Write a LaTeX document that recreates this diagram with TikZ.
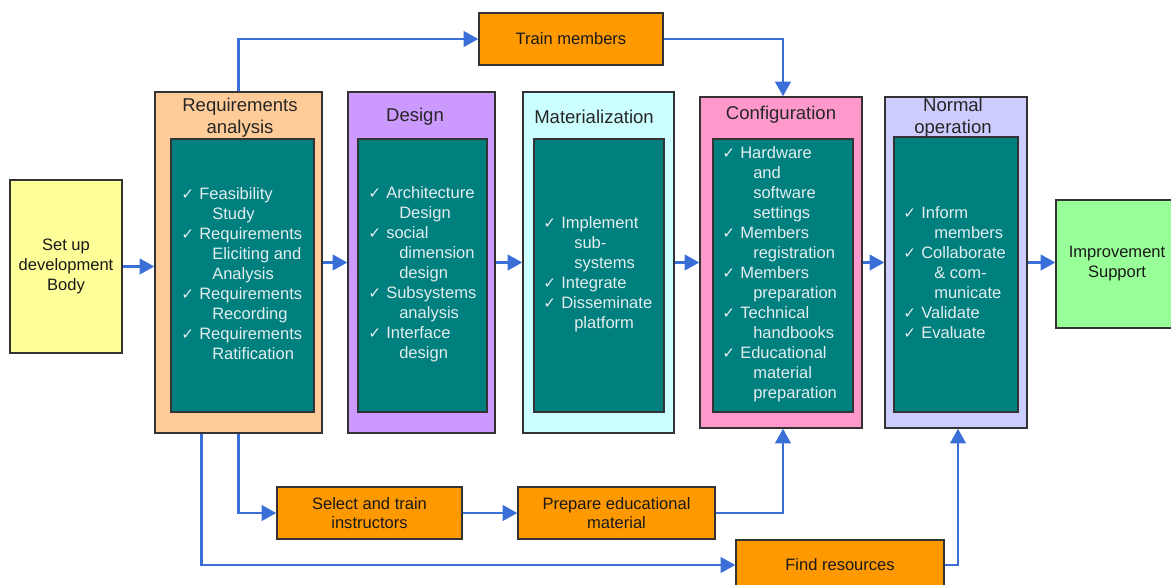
\documentclass[tikz,border=0pt]{standalone}
\usepackage{fontspec}
\setmainfont{Liberation Sans}
\newfontfamily\djv{DejaVu Sans}
\usetikzlibrary{fit,arrows.meta}
\definecolor{reqc}{HTML}{FFCC99}
\definecolor{desc}{HTML}{CC99FF}
\definecolor{matc}{HTML}{CCFFFF}
\definecolor{confc}{HTML}{FF99CC}
\definecolor{normc}{HTML}{CCCCFF}
\definecolor{setupc}{HTML}{FFFF99}
\definecolor{impc}{HTML}{99FF99}
\definecolor{orangec}{HTML}{FF9900}
\definecolor{tealc}{HTML}{007F7F}
\definecolor{arrc}{HTML}{3A6FD8}
\definecolor{lstc}{HTML}{E4EEEE}
\newcommand{\ckm}{\makebox[13.5pt][l]{\djv\fontsize{11.5}{12}\selectfont ✓}}
\newcommand{\cnt}{\hspace*{23.25pt}}
\tikzset{
 blk/.style={draw=black!80, line width=1pt, inner sep=0pt},
 innr/.style={blk, fill=tealc},
 ttl/.style={font=\fontsize{13.9}{16.5}\selectfont, text=black!85, align=center, inner sep=0pt},
 lst/.style={font=\fontsize{12.4}{15}\selectfont, text=lstc, align=left, inner sep=0pt, anchor=west},
 lbl/.style={font=\fontsize{12.4}{15}\selectfont, text=black!90, align=center, inner sep=0pt},
 tlbl/.style={lbl, font=\fontsize{12.4}{14.25}\selectfont},
 task/.style={blk, fill=orangec},
 arr/.style={draw=arrc, line width=2.2pt, -{Triangle[length=11pt,width=11.5pt]}},
}
\begin{document}
\begin{tikzpicture}[x=0.75pt,y=-0.75pt]
\clip (0,0) rectangle (1171,585);
\fill[white] (0,0) rectangle (1171,585);

% main column boxes
\node[blk, fill=setupc, fit={(10,180)(122,353)}] (setup) {};
\node[lbl] (setupt) at (setup.center) {Set up\\development\\Body};
\node[blk, fill=reqc, fit={(155,92)(322,433)}] (req) {};
\node[innr, fit={(171,139)(314,412)}] (reqi) {};
\node[blk, fill=desc, fit={(348,92)(495,433)}] (des) {};
\node[innr, fit={(358,139)(487,412)}] (desi) {};
\node[blk, fill=matc, fit={(523,92)(674,433)}] (mat) {};
\node[innr, fit={(534,139)(664,412)}] (mati) {};
\node[blk, fill=confc, fit={(700,97)(862,428)}] (conf) {};
\node[innr, fit={(713,139)(853,412)}] (confi) {};
\node[blk, fill=normc, fit={(885,97)(1027,428)}] (norm) {};
\node[innr, fit={(894,137)(1018,412)}] (normi) {};
\node[blk, fill=impc, fit={(1056,200)(1178,328)}] (imp) {};
\node[lbl] (impt) at (imp.center) {Improvement\\Support};

% titles
\node[ttl] (reqt) at (240,118) {Requirements\\analysis};
\node[ttl] (dest) at (415,117) {Design};
\node[ttl] (matt) at (594,117) {Materialization};
\node[ttl] (conft) at (781,115) {Configuration};
\node[ttl] (normt) at (953,118) {Normal\\operation};

% lists
\node[lst] (reql) at (181,274) {\ckm Feasibility\\\cnt Study\\\ckm Requirements\\\cnt Eliciting and\\\cnt Analysis\\\ckm Requirements\\\cnt Recording\\\ckm Requirements\\\cnt Ratification};
\node[lst] (desl) at (368,274) {\ckm Architecture\\\cnt Design\\\ckm social\\\cnt dimension\\\cnt design\\\ckm Subsystems\\\cnt analysis\\\ckm Interface\\\cnt design};
\node[lst] (matl) at (543,274) {\ckm Implement\\\cnt sub-\\\cnt systems\\\ckm Integrate\\\ckm Disseminate\\\cnt platform};
\node[lst] (confl) at (722,274) {\ckm Hardware\\\cnt and\\\cnt software\\\cnt settings\\\ckm Members\\\cnt registration\\\ckm Members\\\cnt preparation\\\ckm Technical\\\cnt handbooks\\\ckm Educational\\\cnt material\\\cnt preparation};
\node[lst] (norml) at (903,273) {\ckm Inform\\\cnt members\\\ckm Collaborate\\\cnt \& com-\\\cnt municate\\\ckm Validate\\\ckm Evaluate};

% side tasks
\node[task, fit={(479,13)(663,65)}] (train) {};
\node[tlbl] (traint) at (train.center) {Train members};
\node[task, fit={(277,487)(462,539)}] (sel) {};
\node[tlbl] (selt) at (sel.center) {Select and train\\instructors};
\node[task, fit={(518,487)(715,539)}] (prep) {};
\node[tlbl] (prept) at (prep.center) {Prepare educational\\material};
\node[task, fit={(736,540)(944,590)}] (find) {};
\node[tlbl] (findt) at (find.center) {Find resources};

% main flow
\draw[arr] (setup.east) -- (setup.east -| req.west);
\draw[arr] (req.east) -- (req.east -| des.west);
\draw[arr] (des.east) -- (des.east -| mat.west);
\draw[arr] (mat.east) -- (mat.east -| conf.west);
\draw[arr] (conf.east) -- (conf.east -| norm.west);
\draw[arr] (norm.east) -- (norm.east -| imp.west);

% side flows
\draw[arr] (req.north) |- (train.west);
\draw[arr] (train.east) -| ([xshift=1.5pt]conf.north);
\draw[arr] (req.south) |- (sel.west);
\draw[arr] (sel.east) -- (prep.west);
\draw[arr] (prep.east) -| ([xshift=1.5pt]conf.south);
\coordinate (reqs2) at ([xshift=-28pt]req.south);
\draw[arr] (reqs2) |- (find.west);
\draw[arr] (find.east) -| ([xshift=1.5pt]norm.south);
\end{tikzpicture}
\end{document}
